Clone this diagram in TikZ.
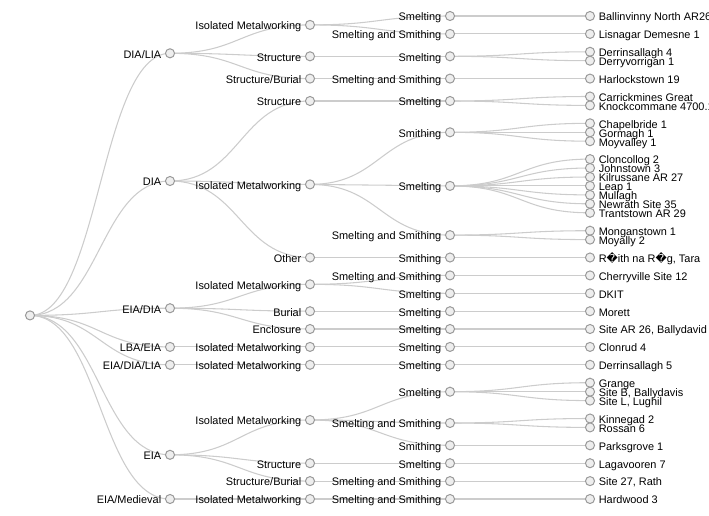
\documentclass[tikz,border=0pt]{standalone}
\usepackage{fontspec}
\setmainfont{Liberation Sans}
\newfontfamily\repfont{DejaVu Sans}
\usetikzlibrary{backgrounds}
\definecolor{colLink}{HTML}{CCCCCC}
\definecolor{colRing}{HTML}{999999}
\definecolor{colDot}{HTML}{EEEEEE}
\newcommand{\badchar}{{\repfont\char"FFFD}}
\tikzset{
  % tree vertices (circles)
  dot/.style={
    circle, draw=colRing, fill=colDot, line width=0.75pt,
    minimum size=6.8pt, inner sep=0pt, outer sep=0pt,
  },
  % text beside a vertex
  lbl/.style={
    font=\fontsize{8.2pt}{9pt}\selectfont,
    inner sep=0pt, text height=0.72em, text depth=0pt,
    label distance=3pt,
  },
  branch/.style={dot, label={[lbl]left:#1}},
  site/.style={dot, label={[lbl]right:#1}},
  % curved tree edges
  link/.style={draw=colLink, line width=0.8pt},
}

\begin{document}
\begin{tikzpicture}[x=0.75pt, y=-0.75pt]
\useasboundingbox (0,0) rectangle (709,515);

%% root
\node[dot] (root) at (30,315.4) {};

%% period
\node[branch=DIA/LIA]      (dialia)    at (170,53.3)  {};
\node[branch=DIA]          (dia)       at (170,181.0) {};
\node[branch=EIA/DIA]      (eiadia)    at (170,308.2) {};
\node[branch=LBA/EIA]      (lbaeia)    at (170,346.9) {};
\node[branch=EIA/DIA/LIA]  (eiadialia) at (170,364.8) {};
\node[branch=EIA]          (eia)       at (170,454.8) {};
\node[branch=EIA/Medieval] (eiamed)    at (170,499.0) {};

%% context
\node[branch=Isolated Metalworking] (t1)  at (310,24.9)  {};
\node[branch=Structure]             (t2)  at (310,56.3)  {};
\node[branch=Structure/Burial]      (t3)  at (310,78.6)  {};
\node[branch=Structure]             (t4)  at (310,101.0) {};
\node[branch=Isolated Metalworking] (t5)  at (310,184.4) {};
\node[branch=Other]                 (t6)  at (310,257.5) {};
\node[branch=Isolated Metalworking] (t7)  at (310,284.3) {};
\node[branch=Burial]                (t8)  at (310,311.2) {};
\node[branch=Enclosure]             (t9)  at (310,329.0) {};
\node[branch=Isolated Metalworking] (t10) at (310,346.9) {};
\node[branch=Isolated Metalworking] (t11) at (310,364.8) {};
\node[branch=Isolated Metalworking] (t12) at (310,420.0) {};
\node[branch=Structure]             (t13) at (310,463.2) {};
\node[branch=Structure/Burial]      (t14) at (310,481.1) {};
\node[branch=Isolated Metalworking] (t15) at (310,499.0) {};

%% activity
\node[branch=Smelting]              (s1)  at (450,16.0)  {};
\node[branch=Smelting and Smithing] (s2)  at (450,33.9)  {};
\node[branch=Smelting]              (s3)  at (450,56.3)  {};
\node[branch=Smelting and Smithing] (s4)  at (450,78.6)  {};
\node[branch=Smelting]              (s5)  at (450,101.0) {};
\node[branch=Smithing]              (s6)  at (450,132.3) {};
\node[branch=Smelting]              (s7)  at (450,185.9) {};
\node[branch=Smelting and Smithing] (s8)  at (450,235.1) {};
\node[branch=Smithing]              (s9)  at (450,257.5) {};
\node[branch=Smelting and Smithing] (s10) at (450,275.4) {};
\node[branch=Smelting]              (s11) at (450,293.3) {};
\node[branch=Smelting]              (s12) at (450,311.2) {};
\node[branch=Smelting]              (s13) at (450,329.0) {};
\node[branch=Smelting]              (s14) at (450,346.9) {};
\node[branch=Smelting]              (s15) at (450,364.8) {};
\node[branch=Smelting]              (s16) at (450,391.7) {};
\node[branch=Smelting and Smithing] (s17) at (450,423.0) {};
\node[branch=Smithing]              (s18) at (450,445.3) {};
\node[branch=Smelting]              (s19) at (450,463.2) {};
\node[branch=Smelting and Smithing] (s20) at (450,481.1) {};
\node[branch=Smelting and Smithing] (s21) at (450,499.0) {};

%% sites
\node[site=Ballinvinny North AR26] (f1)  at (590,16.0)  {};
\node[site=Lisnagar Demesne 1]     (f2)  at (590,33.9)  {};
\node[site=Derrinsallagh 4]        (f3)  at (590,51.8)  {};
\node[site=Derryvorrigan 1]        (f4)  at (590,60.7)  {};
\node[site=Harlockstown 19]        (f5)  at (590,78.6)  {};
\node[site=Carrickmines Great]     (f6)  at (590,96.5)  {};
\node[site=Knockcommane 4700.1]    (f7)  at (590,105.4) {};
\node[site=Chapelbride 1]          (f8)  at (590,123.3) {};
\node[site=Gormagh 1]              (f9)  at (590,132.3) {};
\node[site=Moyvalley 1]            (f10) at (590,141.2) {};
\node[site=Cloncollog 2]           (f11) at (590,159.1) {};
\node[site=Johnstown 3]            (f12) at (590,168.0) {};
\node[site=Kilrussane AR 27]       (f13) at (590,177.0) {};
\node[site=Leap 1]                 (f14) at (590,185.9) {};
\node[site=Mullagh]                (f15) at (590,194.9) {};
\node[site=Newrath Site 35]        (f16) at (590,203.8) {};
\node[site=Trantstown AR 29]       (f17) at (590,212.8) {};
\node[site=Monganstown 1]          (f18) at (590,230.7) {};
\node[site=Moyally 2]              (f19) at (590,239.6) {};
\node[site={R\badchar ith na R\badchar g, Tara}] (f20) at (590,257.5) {};
\node[site=Cherryville Site 12]    (f21) at (590,275.4) {};
\node[site=DKIT]                   (f22) at (590,293.3) {};
\node[site=Morett]                 (f23) at (590,311.2) {};
\node[site={Site AR 26, Ballydavid}] (f24) at (590,329.0) {};
\node[site=Clonrud 4]              (f25) at (590,346.9) {};
\node[site=Derrinsallagh 5]        (f26) at (590,364.8) {};
\node[site=Grange]                 (f27) at (590,382.7) {};
\node[site={Site B, Ballydavis}]   (f28) at (590,391.7) {};
\node[site={Site L, Lughil}]       (f29) at (590,400.6) {};
\node[site=Kinnegad 2]             (f30) at (590,418.5) {};
\node[site=Rossan 6]               (f31) at (590,427.4) {};
\node[site=Parksgrove 1]           (f32) at (590,445.3) {};
\node[site=Lagavooren 7]           (f33) at (590,463.2) {};
\node[site={Site 27, Rath}]        (f34) at (590,481.1) {};
\node[site=Hardwood 3]             (f35) at (590,499.0) {};

%% edges, behind the circles
\begin{scope}[on background layer]
  \foreach \a/\b in {root/dialia, root/dia, root/eiadia, root/lbaeia,
      root/eiadialia, root/eia, root/eiamed,
      dialia/t1, dialia/t2, dialia/t3, dia/t4, dia/t5, dia/t6,
      eiadia/t7, eiadia/t8, eiadia/t9, lbaeia/t10, eiadialia/t11,
      eia/t12, eia/t13, eia/t14, eiamed/t15,
      t1/s1, t1/s2, t2/s3, t3/s4, t4/s5, t5/s6, t5/s7, t5/s8, t6/s9,
      t7/s10, t7/s11, t8/s12, t9/s13, t10/s14, t11/s15,
      t12/s16, t12/s17, t12/s18, t13/s19, t14/s20, t15/s21,
      s1/f1, s2/f2, s3/f3, s3/f4, s4/f5, s5/f6, s5/f7,
      s6/f8, s6/f9, s6/f10, s7/f11, s7/f12, s7/f13, s7/f14, s7/f15,
      s7/f16, s7/f17, s8/f18, s8/f19, s9/f20, s10/f21, s11/f22,
      s12/f23, s13/f24, s14/f25, s15/f26, s16/f27, s16/f28, s16/f29,
      s17/f30, s17/f31, s18/f32, s19/f33, s20/f34, s21/f35}
    \draw[link] (\a.center) .. controls +(70,0) and +(-70,0) .. (\b.center);
\end{scope}

\end{tikzpicture}
\end{document}
